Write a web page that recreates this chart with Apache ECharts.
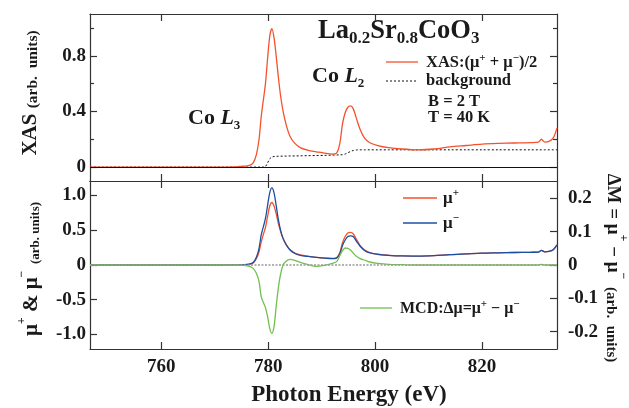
<!DOCTYPE html>
<html>
<head>
<meta charset="utf-8">
<script src="https://cdn.jsdelivr.net/npm/echarts@6/dist/echarts.min.js"></script>
<style>
html, body { margin: 0; padding: 0; background: #fff; }
#chart { width: 629px; height: 408px; }
</style>
</head>
<body>
<div id="chart"></div>
<script>
// photon energy (eV)
var energy = [746.7, 760, 770, 774, 775.5, 776.5, 777.2, 777.8, 778.3, 778.7,
  779.1, 779.5, 779.9, 780.3, 780.7, 781.1, 781.5, 781.9, 782.3, 782.8,
  783.4, 784.1, 785, 786, 787.5, 789, 790.5, 792, 792.8, 793.4,
  793.9, 794.4, 794.9, 795.4, 795.9, 796.5, 797.2, 798, 799, 800.5,
  802.5, 805, 808, 811, 814, 817, 820, 823, 826, 829,
  830.5, 831.1, 831.7, 832.5, 833.3, 834];
// XAS = (mu+ + mu-)/2
var xasAvg = [0, 0, 0, 0.002, 0.006, 0.012, 0.03, 0.09, 0.20, 0.36,
  0.48, 0.60, 0.78, 0.94, 0.995, 0.93, 0.80, 0.65, 0.52, 0.40,
  0.30, 0.22, 0.17, 0.14, 0.12, 0.11, 0.10, 0.093, 0.10, 0.17,
  0.31, 0.39, 0.43, 0.44, 0.42, 0.35, 0.27, 0.21, 0.175, 0.155,
  0.14, 0.13, 0.124, 0.13, 0.145, 0.155, 0.165, 0.17, 0.173, 0.176,
  0.18, 0.20, 0.18, 0.185, 0.21, 0.28];
var background = [0, 0, 0, 0, 0, 0, 0, 0, 0, 0,
  0, 0.004, 0.03, 0.06, 0.072, 0.076, 0.077, 0.078, 0.078, 0.079,
  0.079, 0.08, 0.08, 0.081, 0.082, 0.083, 0.084, 0.086, 0.087, 0.088,
  0.089, 0.094, 0.103, 0.112, 0.119, 0.123, 0.124, 0.124, 0.124, 0.124,
  0.124, 0.124, 0.124, 0.124, 0.124, 0.124, 0.124, 0.124, 0.124, 0.124,
  0.124, 0.124, 0.124, 0.124, 0.124, 0.124];
var muPlus = [0, 0, 0, 0.002, 0.006, 0.012, 0.03, 0.09, 0.19, 0.33,
  0.44, 0.54, 0.70, 0.85, 0.90, 0.85, 0.74, 0.60, 0.49, 0.38,
  0.29, 0.22, 0.17, 0.145, 0.125, 0.11, 0.10, 0.095, 0.105, 0.18,
  0.32, 0.41, 0.46, 0.47, 0.45, 0.37, 0.28, 0.22, 0.18, 0.155,
  0.14, 0.13, 0.128, 0.135, 0.15, 0.16, 0.17, 0.175, 0.18, 0.183,
  0.186, 0.21, 0.19, 0.195, 0.22, 0.29];
var muMinus = [0, 0, 0, 0.002, 0.006, 0.013, 0.035, 0.11, 0.24, 0.43,
  0.55, 0.67, 0.86, 1.04, 1.11, 1.04, 0.86, 0.66, 0.51, 0.38,
  0.29, 0.215, 0.165, 0.14, 0.123, 0.11, 0.10, 0.092, 0.10, 0.16,
  0.28, 0.36, 0.41, 0.42, 0.41, 0.345, 0.27, 0.21, 0.175, 0.153,
  0.14, 0.13, 0.128, 0.135, 0.15, 0.16, 0.17, 0.175, 0.18, 0.183,
  0.186, 0.21, 0.19, 0.195, 0.22, 0.29];
// MCD = mu+ - mu- (right axis)
var mcd = [0, 0, 0, 0, -0.001, -0.004, -0.01, -0.025, -0.05, -0.095,
  -0.112, -0.128, -0.155, -0.19, -0.205, -0.185, -0.125, -0.07, -0.03, 0,
  0.012, 0.017, 0.014, 0.008, 0.001, -0.004, -0.001, 0.005, 0.01, 0.028,
  0.043, 0.051, 0.05, 0.045, 0.036, 0.026, 0.019, 0.015, 0.009, 0.005,
  0.002, 0.001, 0, 0, 0, 0, 0, 0, 0, 0,
  0, 0.002, 0, 0, 0, 0];

var xTicks = [760, 780, 800, 820];
var xasTicks = [0, 0.4, 0.8];
var xasMinorTicks = [0.2, 0.6, 1.0];
var muTicks = [-1, -0.5, 0, 0.5, 1];
var mcdTicks = [-0.2, -0.1, 0, 0.1, 0.2];

var FONT = 'Liberation Serif';
var INK = '#1a1a1a';
var RED = '#f4512c';
var BLUE = '#1c4fa3';
var GREEN = '#72c04c';
var AXIS = '#333';

function pairs(ys) {
  return energy.map(function (e, i) { return [e, ys[i]]; });
}
function fmt(v) {
  return v === 0 ? '0' : v.toFixed(1);
}

function xAxisCfg(grid, pos, labels) {
  return {
    type: 'value', gridIndex: grid, position: pos,
    min: 746.7, max: 834,
    axisLine: { show: true, onZero: false, lineStyle: { color: AXIS, width: 1.2 } },
    axisTick: { show: true, inside: true, length: 7, customValues: xTicks, lineStyle: { color: AXIS, width: 1.2 } },
    axisLabel: { show: labels, customValues: xTicks, margin: 9, fontFamily: FONT, fontWeight: 'bold', fontSize: 19, color: INK },
    splitLine: { show: false }
  };
}
function yAxisCfg(grid, pos, min, max, ticks, len, labels, line, margin) {
  return {
    type: 'value', gridIndex: grid, position: pos, min: min, max: max,
    axisLine: { show: line, onZero: false, lineStyle: { color: AXIS, width: 1.2 } },
    axisTick: { show: true, inside: true, length: len, customValues: ticks, lineStyle: { color: AXIS, width: 1.2 } },
    axisLabel: { show: labels, customValues: ticks, formatter: fmt, margin: margin,
      fontFamily: FONT, fontWeight: 'bold', fontSize: 19, color: INK },
    splitLine: { show: false }
  };
}

var base = { fontFamily: FONT, fontWeight: 'bold', fill: INK };
function txt(x, y, text, rich, extra) {
  return Object.assign({
    type: 'text', x: x, y: y, silent: true,
    style: Object.assign({ text: text, rich: rich, textAlign: 'left', textVerticalAlign: 'middle', fontSize: 16.5 }, base)
  }, extra || {});
}
function r(size, lh, va, extra) {
  return Object.assign({ fontSize: size, lineHeight: lh, verticalAlign: va, fontFamily: FONT, fontWeight: 'bold', color: INK }, extra || {});
}
function rotated(x, y, rot, text, rich) {
  return {
    type: 'text', silent: true, x: x, y: y, rotation: rot,
    style: Object.assign({ text: text, rich: rich, textAlign: 'center', textVerticalAlign: 'middle' }, base)
  };
}

var chart = echarts.init(document.getElementById('chart'));
chart.setOption({
  animation: false,
  backgroundColor: '#fff',
  grid: [
    { left: 90, right: 72, top: 14, height: 167 },
    { left: 90, right: 72, top: 181, height: 168 }
  ],
  xAxis: [
    xAxisCfg(0, 'bottom', false),
    xAxisCfg(0, 'top', false),
    xAxisCfg(1, 'bottom', true),
    xAxisCfg(1, 'top', false)
  ],
  yAxis: [
    yAxisCfg(0, 'left', -0.1, 1.1, xasTicks, 7, true, true, 4),
    yAxisCfg(0, 'left', -0.1, 1.1, xasMinorTicks, 4, false, false, 4),
    yAxisCfg(0, 'right', -0.1, 1.1, xasTicks, 7, false, true, 4),
    yAxisCfg(0, 'right', -0.1, 1.1, xasMinorTicks, 4, false, false, 4),
    yAxisCfg(1, 'left', -1.21, 1.21, muTicks, 7, true, true, 4),
    yAxisCfg(1, 'right', -0.252, 0.252, mcdTicks, 7, true, true, 11)
  ],
  series: [
    {
      name: 'background', type: 'line', xAxisIndex: 0, yAxisIndex: 0,
      data: pairs(background), showSymbol: false, smooth: 0.3,
      lineStyle: { color: '#111', width: 1, type: [2, 2] },
      markLine: {
        silent: true, symbol: ['none', 'none'], label: { show: false },
        lineStyle: { color: '#111', type: 'solid', width: 1 },
        data: [{ yAxis: 0 }]
      }
    },
    {
      name: 'XAS', type: 'line', xAxisIndex: 0, yAxisIndex: 0,
      data: pairs(xasAvg), showSymbol: false, smooth: 0.3,
      lineStyle: { color: RED, width: 1.3 }
    },
    {
      name: 'mu+', type: 'line', xAxisIndex: 2, yAxisIndex: 4,
      data: pairs(muPlus), showSymbol: false, smooth: 0.3,
      lineStyle: { color: RED, width: 1.3 },
      markLine: {
        silent: true, symbol: ['none', 'none'], label: { show: false },
        lineStyle: { color: '#999', type: [2, 1.5], width: 1.5 },
        data: [{ yAxis: 0 }]
      }
    },
    {
      name: 'mu-', type: 'line', xAxisIndex: 2, yAxisIndex: 4,
      data: pairs(muMinus), showSymbol: false, smooth: 0.3,
      lineStyle: { color: BLUE, width: 1.3 }
    },
    {
      name: 'MCD', type: 'line', xAxisIndex: 2, yAxisIndex: 5,
      data: pairs(mcd), showSymbol: false, smooth: 0.3,
      lineStyle: { color: GREEN, width: 1.3 }
    }
  ],
  graphic: [
    // title
    txt(318, 31, '{m|La}{s|0.2}{m|Sr}{s|0.8}{m|CoO}{s|3}', {
      m: r(26.5, 32, 'middle'), s: r(17, 16, 'bottom')
    }),
    // peak labels
    txt(188, 118, '{m|Co }{i|L}{s|3}', {
      m: r(22, 28, 'middle'), i: r(22, 28, 'middle', { fontStyle: 'italic' }), s: r(13, 13, 'bottom')
    }),
    txt(312, 76, '{m|Co }{i|L}{s|2}', {
      m: r(22, 28, 'middle'), i: r(22, 28, 'middle', { fontStyle: 'italic' }), s: r(13, 13, 'bottom')
    }),
    // top legend
    { type: 'line', silent: true, shape: { x1: 386, y1: 62, x2: 418, y2: 62 }, style: { stroke: RED, lineWidth: 1.3 } },
    txt(426, 63, '{t|XAS:(μ}{p|+}{t| + μ}{p|−}{t|)/2}', {
      t: r(16.5, 20, 'middle'), p: r(11, 10, 'top')
    }),
    { type: 'line', silent: true, shape: { x1: 386, y1: 81, x2: 418, y2: 81 }, style: { stroke: '#111', lineWidth: 1, lineDash: [2, 2] } },
    txt(426, 81, 'background', null),
    txt(428, 102, 'B = 2 T', null),
    txt(428, 118, 'T = 40 K', null),
    // bottom legend
    { type: 'line', silent: true, shape: { x1: 403, y1: 198, x2: 437, y2: 198 }, style: { stroke: RED, lineWidth: 1.3 } },
    txt(443, 199, '{m|μ}{p|+}', { m: r(17, 22, 'middle'), p: r(11, 11, 'top') }),
    { type: 'line', silent: true, shape: { x1: 403, y1: 223, x2: 437, y2: 223 }, style: { stroke: BLUE, lineWidth: 1.3 } },
    txt(443, 224, '{m|μ}{p|−}', { m: r(17, 22, 'middle'), p: r(11, 11, 'top') }),
    { type: 'line', silent: true, shape: { x1: 360, y1: 308, x2: 392, y2: 308 }, style: { stroke: GREEN, lineWidth: 1.3 } },
    txt(400, 309, '{t|MCD:Δμ=μ}{p|+}{t| − μ}{p|−}', { t: r(16, 20, 'middle'), p: r(11, 10, 'top') }),
    // axis titles
    rotated(30, 93, Math.PI / 2, '{a|XAS }{b|(arb.  units)}',
      { a: r(21, 22, 'bottom'), b: r(15.5, 15, 'bottom') }),
    rotated(29, 269, Math.PI / 2, '{m|μ}{p|+}{m| & μ}{p|−}{b|  (arb. units)}',
      { m: r(21, 26, 'bottom'), p: r(12, 12, 'top'), b: r(13, 15, 'bottom') }),
    rotated(616, 268, -Math.PI / 2, '{m|ΔM = μ}{p|+}{m| − μ}{p|−}{b|  (arb.  units)}',
      { m: r(19, 26, 'bottom'), p: r(12, 12, 'top'), b: r(15, 15, 'bottom') }),
    {
      type: 'text', silent: true, x: 349, y: 395,
      style: Object.assign({ text: 'Photon Energy (eV)', fontSize: 23, textAlign: 'center', textVerticalAlign: 'middle' }, base)
    }
  ]
});
</script>
</body>
</html>
